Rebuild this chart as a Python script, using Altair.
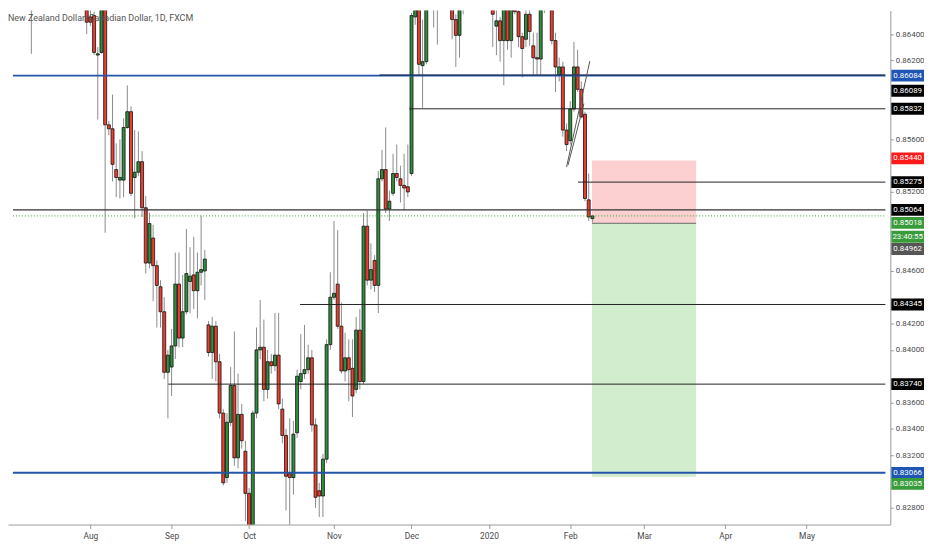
import numpy as np
import pandas as pd
import altair as alt

# NZD/CAD daily candles (FXCM), one bar per trading day from 1 Jul 2019
# (25 Dec and 1 Jan have no bar). Bars above the visible range are estimates.
opens = [
    .8775, .8790, .8800, .8775, .8710, .8661, .8685, .8705, .8690, .8735,
    .8750, .8745, .8780, .8770, .8760, .8785, .8770, .8750, .8735, .8710,
    .8720, .8700, .8690, .8653, .8654, .8624, .8626, .8660, .8571, .8568,
    .8537, .8529, .8529, .8569, .8581, .8531, .8535, .8543, .8508, .8466,
    .8485, .8464, .8448, .8429, .8383, .8387, .8403, .8450, .8409, .8429,
    .8452, .8457, .8445, .8459, .8460, .8419, .8398, .8418, .8391, .8352,
    .8303, .8345, .8373, .8318, .8351, .8323, .8291, .8262, .8352, .8400,
    .8402, .8370, .8391, .8388, .8396, .8355, .8335, .8306, .8303, .8337,
    .8376, .8382, .8385, .8394, .8343, .8293, .8289, .8317, .8404, .8440,
    .8450, .8418, .8384, .8394, .8386, .8370, .8415, .8376, .8494, .8453,
    .8468, .8449, .8530, .8537, .8507, .8519, .8534, .8530, .8525, .8524,
    .8534, .8653, .8670, .8616, .8619, .8672, .8680, .8659, .8675, .8690,
    .8682, .8670, .8651, .8639, .8668, .8680, .8688, .8695, .8685, .8692,
    .8700, .8690, .8680, .8646, .8650, .8635, .8668, .8635, .8662, .8657,
    .8638, .8636, .8655, .8631, .8622, .8621, .8659, .8670, .8659, .8635,
    .8609, .8615, .8567, .8559, .8583, .8615, .8598, .8579, .8514, .84998,
]
highs = [
    .8800, .8812, .8808, .8780, .8720, .8690, .8720, .8712, .8745, .8760,
    .8770, .8790, .8800, .8785, .8795, .8800, .8780, .8765, .8745, .8730,
    .8728, .8712, .8695, .8660, .8657, .8630, .8664, .8664, .8574, .8594,
    .8557, .8560, .8576, .8601, .8585, .8567, .8566, .8551, .8517, .8504,
    .8495, .8468, .8453, .8440, .8400, .8416, .8474, .8474, .8457, .8492,
    .8478, .8486, .8474, .8502, .8476, .8422, .8425, .8422, .8397, .8355,
    .8352, .8387, .8414, .8382, .8359, .8331, .8295, .8354, .8417, .8438,
    .8423, .8400, .8397, .8428, .8428, .8363, .8340, .8348, .8346, .8385,
    .8412, .8419, .8404, .8400, .8348, .8299, .8321, .8408, .8459, .8498,
    .8491, .8436, .8413, .8408, .8408, .8425, .8431, .8504, .8506, .8481,
    .8472, .8536, .8552, .8569, .8521, .8549, .8556, .8540, .8549, .8556,
    .8656, .8680, .8676, .8651, .8680, .8695, .8690, .8685, .8702, .8698,
    .8688, .8678, .8655, .8675, .8690, .8695, .8702, .8700, .8698, .8710,
    .8705, .8696, .8684, .8665, .8653, .8675, .8672, .8676, .8668, .8664,
    .8641, .8662, .8666, .8641, .8641, .8664, .8676, .8680, .8666, .8641,
    .8622, .8619, .8572, .8589, .8634, .8628, .8604, .8581, .8534, .85025,
]
lows = [
    .8760, .8778, .8770, .8700, .8658, .8659, .8675, .8625, .8682, .8725,
    .8735, .8740, .8760, .8745, .8750, .8760, .8740, .8725, .8700, .8695,
    .8690, .8680, .8640, .8646, .8624, .8575, .8625, .8489, .8563, .8528,
    .8516, .8515, .8516, .8568, .8517, .8500, .8532, .8501, .8458, .8462,
    .8437, .8417, .8417, .8378, .8348, .8365, .8393, .8402, .8402, .8427,
    .8428, .8431, .8424, .8449, .8438, .8395, .8378, .8376, .8348, .8297,
    .8299, .8342, .8312, .8310, .8325, .8270, .8255, .8256, .8348, .8393,
    .8361, .8363, .8382, .8384, .8355, .8329, .8278, .8265, .8290, .8333,
    .8370, .8378, .8382, .8338, .8280, .8273, .8273, .8314, .8400, .8438,
    .8416, .8382, .8376, .8361, .8349, .8367, .8370, .8374, .8449, .8446,
    .8444, .8428, .8528, .8504, .8498, .8517, .8528, .8512, .8506, .8516,
    .8532, .8647, .8609, .8584, .8617, .8661, .8645, .8632, .8667, .8670,
    .8665, .8636, .8615, .8622, .8655, .8672, .8680, .8678, .8676, .8685,
    .8680, .8672, .8630, .8624, .8619, .8601, .8628, .8622, .8655, .8630,
    .8607, .8630, .8631, .8609, .8609, .8609, .8656, .8665, .8632, .8596,
    .8604, .8562, .8551, .8556, .8581, .8596, .8576, .8513, .8498, .8497,
]
closes = [
    .8790, .8800, .8775, .8710, .8661, .8685, .8705, .8690, .8735, .8750,
    .8745, .8780, .8770, .8760, .8785, .8770, .8750, .8735, .8710, .8720,
    .8700, .8690, .8649, .8649, .8626, .8625, .8660, .8571, .8568, .8541,
    .8531, .8531, .8569, .8581, .8519, .8535, .8543, .8508, .8466, .8496,
    .8464, .8449, .8429, .8383, .8396, .8403, .8450, .8409, .8429, .8458,
    .8456, .8445, .8459, .8461, .8469, .8398, .8418, .8391, .8352, .8299,
    .8345, .8373, .8318, .8351, .8331, .8291, .8262, .8352, .8400, .8402,
    .8370, .8391, .8388, .8396, .8359, .8335, .8304, .8303, .8336, .8380,
    .8382, .8385, .8394, .8343, .8288, .8289, .8317, .8404, .8440, .8443,
    .8418, .8384, .8394, .8385, .8365, .8415, .8376, .8494, .8453, .8461,
    .8449, .8530, .8537, .8507, .8513, .8534, .8531, .8525, .8523, .8520,
    .8654, .8672, .8617, .8619, .8670, .8685, .8659, .8675, .8690, .8682,
    .8670, .8651, .8639, .8668, .8680, .8688, .8695, .8685, .8692, .8700,
    .8690, .8680, .8655, .8650, .8635, .8668, .8635, .8670, .8657, .8638,
    .8629, .8655, .8642, .8622, .8621, .8659, .8670, .8672, .8635, .8615,
    .8615, .8567, .8556, .8583, .8615, .8598, .8577, .8515, .8501, .85018,
]

# first bar of each month
month_names = ['Jul', 'Aug', 'Sep', 'Oct', 'Nov', 'Dec', '2020', 'Feb', 'Mar', 'Apr', 'May', 'Jun']
month_bars = [0, 23, 45, 66, 89, 110, 131, 153, 173, 195, 217, 238]

# price axis labels left uncovered by the tags
price_ticks = [0.866, 0.864, 0.862, 0.856, 0.852, 0.846, 0.842, 0.840, 0.836, 0.834, 0.832, 0.828]

# drawn horizontal levels: price, bar where the line starts
level_prices = [0.86084, 0.86089, 0.85832, 0.85275, 0.85064, 0.84345, 0.83740, 0.83066]
level_starts = [0, 101.3, 109.4, 155.1, 0, 79.8, 44.1, 0]
level_colors = ['#2356a8', '#1b2846', '#222222', '#222222', '#333333', '#222222', '#222222', '#2356a8']
level_widths = [2, 1, 1, 1, 1.2, 1, 1, 2]

# short position tool
entry = 0.84962
stop = 0.85440
target = 0.83035
pos_start, pos_end = 158.9, 187.1

last_price = 0.85018

# two trend lines near the top
trend_bar0 = [152.0, 152.4]
trend_p0 = [0.85389, 0.85404]
trend_bar1 = [158.3, 156.7]
trend_p1 = [0.86194, 0.85871]

# price tags on the right axis (shift in px keeps them from overlapping)
tag_prices = [0.86084, 0.86089, 0.85832, 0.85440, 0.85275, 0.85064, 0.85018, 0.85018,
              0.84962, 0.84345, 0.83740, 0.83066, 0.83035]
tag_texts = ['0.86084', '0.86089', '0.85832', '0.85440', '0.85275', '0.85064', '0.85018', '23:40:55',
             '0.84962', '0.84345', '0.83740', '0.83066', '0.83035']
tag_colors = ['#1f56b3', '#000000', '#000000', '#ff1a1a', '#000000', '#000000', '#389c3a', '#389c3a',
              '#555555', '#000000', '#000000', '#1f56b3', '#389c3a']
tag_shift = [0, 16, 0, -2, 0, 0, 7, 21, 26, 0, 0, 0, 7]

FONT = 'Liberation Sans Narrow, Roboto, sans-serif'
PX_BAR = 3.7697          # px per bar
PX_PRICE = 13291.0       # px per 1.0 of price
TOTAL_W = 925
W, H = 891, 519
RIGHT = TOTAL_W - W      # room for the price axis
X0 = 2.02
X1 = X0 + W / PX_BAR
Y1 = 0.86578
Y0 = Y1 - H / PX_PRICE

xs = alt.Scale(domain=[X0, X1], nice=False, zero=False)
ys = alt.Scale(domain=[Y0, Y1], nice=False, zero=False)

bars = pd.DataFrame({'i': np.arange(len(opens)), 'open': opens, 'high': highs,
                     'low': lows, 'close': closes})
bars = bars[bars['i'] >= 3]

levels = pd.DataFrame({'p': level_prices, 's': level_starts, 'c': level_colors, 'w': level_widths})
levels['s'] = levels['s'].clip(lower=X0)
levels['e'] = X1

zones = pd.DataFrame({'a': [pos_start] * 2, 'b': [pos_end] * 2,
                      'top': [stop, entry], 'bot': [entry, target],
                      'c': ['#fcd0d0', '#d2ecce']})

trends = pd.DataFrame({'a': trend_bar0, 'b': trend_bar1, 'p0': trend_p0, 'p1': trend_p1})

tags = pd.DataFrame({'p': tag_prices, 't': tag_texts, 'c': tag_colors, 'sh': tag_shift})
tags['d'] = tags['p'] - tags['sh'] / PX_PRICE
tags['top'] = tags['d'] + 6.0 / PX_PRICE
tags['bot'] = tags['d'] - 6.0 / PX_PRICE

ticks = [m for m, n in zip(month_bars, month_names) if X0 <= m <= X1 - 3]
labels = [n for m, n in zip(month_bars, month_names) if X0 <= m <= X1 - 3]
label_expr = '[' + ','.join("'%s'" % n for n in labels) + '][indexof([' + \
    ','.join(str(m) for m in ticks) + '], datum.value)]'

xa = alt.Axis(values=ticks, labelExpr=label_expr, grid=False, domainColor='#9a9a9a',
              tickColor='#9a9a9a', tickSize=4, labelPadding=3, labelFontSize=8.5,
              labelColor='#4a4a4a', labelFont=FONT, title=None)
ya = alt.Axis(orient='right', values=price_ticks,
              format='.5f', grid=False, domainColor='#9a9a9a', tickColor='#9a9a9a',
              tickSize=3, labelPadding=2, labelFontSize=8, labelColor='#4a4a4a',
              labelFont=FONT, title=None)


def X(f):
    return alt.X(f, scale=xs, axis=xa, title=None)


def Y(f):
    return alt.Y(f, scale=ys, axis=ya, title=None)


zone_layer = alt.Chart(zones).mark_rect(clip=True).encode(
    x=X('a:Q'), x2='b:Q', y=Y('top:Q'), y2='bot:Q',
    color=alt.Color('c:N', scale=None))

entry_line = alt.Chart(pd.DataFrame({'a': [pos_start], 'b': [pos_end], 'p': [entry]})).mark_rule(
    color='#666666', strokeWidth=1).encode(x=X('a:Q'), x2='b:Q', y=Y('p:Q'))

wicks = alt.Chart(bars).mark_rule(color='#8a8a8a', strokeWidth=1, clip=True).encode(
    x=X('i:Q'), y=Y('low:Q'), y2='high:Q')

bodies = alt.Chart(bars).mark_bar(width=3, stroke='#111111', strokeWidth=0.8, clip=True).encode(
    x=X('i:Q'), y=Y('open:Q'), y2='close:Q',
    color=alt.condition('datum.close >= datum.open', alt.value('#2e8f3c'), alt.value('#f03d2e')))

level_layer = alt.Chart(levels).mark_rule(clip=True).encode(
    x=X('s:Q'), x2='e:Q', y=Y('p:Q'),
    color=alt.Color('c:N', scale=None), size=alt.Size('w:Q', scale=None))

trend_layer = alt.Chart(trends).mark_rule(color='#555555', strokeWidth=1, clip=True).encode(
    x=X('a:Q'), x2='b:Q', y=Y('p0:Q'), y2='p1:Q')

price_line = alt.Chart(pd.DataFrame({'s': [X0], 'e': [X1], 'p': [last_price]})).mark_rule(
    color='#3a9c3a', strokeWidth=1, strokeDash=[1, 2]).encode(x=X('s:Q'), x2='e:Q', y=Y('p:Q'))

title = alt.Chart(pd.DataFrame({'t': ['New Zealand Dollar/Canadian Dollar, 1D, FXCM']})).mark_text(
    align='left', baseline='middle', fontSize=9, font=FONT, color='#555555').encode(
    x=alt.value(0), y=alt.value(7), text='t:N')

tag_boxes = alt.Chart(tags).mark_rect().encode(
    x=alt.value(W + 1), x2=alt.value(W + RIGHT), y=Y('top:Q'), y2='bot:Q',
    color=alt.Color('c:N', scale=None))

tag_text = alt.Chart(tags).mark_text(color='white', fontSize=8, font=FONT, baseline='middle').encode(
    x=alt.value(W + RIGHT / 2 + 0.5), y=Y('d:Q'), text='t:N')

chart = alt.layer(
    zone_layer, entry_line, wicks, bodies, level_layer, trend_layer, price_line,
    title, tag_boxes, tag_text
).properties(
    width=W, height=H,
    autosize=alt.AutoSizeParams(type='none'),
    padding={'left': 0, 'top': 0, 'right': RIGHT, 'bottom': 15},
    background='white'
).configure_view(strokeWidth=0)

chart.save('out.html', embed_options={'renderer': 'svg', 'actions': False})
